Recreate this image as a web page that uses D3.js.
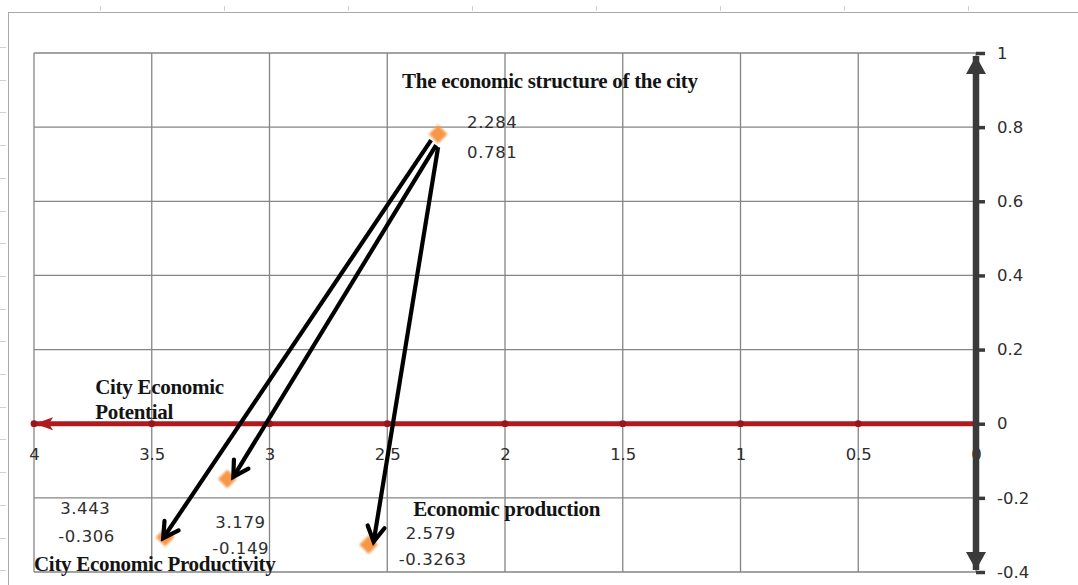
<!DOCTYPE html>
<html>
<head>
<meta charset="utf-8">
<script src="https://cdn.jsdelivr.net/npm/d3@7"></script>
<style>
  body { margin: 0; background: #fff; }
  svg { display: block; }
</style>
</head>
<body>
<div id="chart"></div>
<script>
// data
const xTickValues = [4, 3.5, 3, 2.5, 2, 1.5, 1, 0.5, 0];
const yTickValues = [1, 0.8, 0.6, 0.4, 0.2, 0, -0.2, -0.4];

const pointX = [2.284, 3.179, 3.443, 2.579];
const pointY = [0.781, -0.149, -0.306, -0.3263];
const pointLabelX = ["2.284", "3.179", "3.443", "2.579"];
const pointLabelY = ["0.781", "-0.149", "-0.306", "-0.3263"];

// arrows go from the structure point to the three others
const arrowFrom = [0, 0, 0];
const arrowTo = [2, 1, 3];

const annotationText = [
  ["The economic structure of the city"],
  ["City Economic", "Potential"],
  ["City Economic Productivity"],
  ["Economic production"]
];
// anchor of each annotation, in data units (x, y)
const annotationX = [2.437, 3.74, 4.0, 2.39];
const annotationY = [0.906, 0.08, -0.397, -0.2497];

// layout
const width = 1078, height = 585;
const plot = { left: 34, right: 976, top: 53, bottom: 572 };

// offsets (px) of the two data labels from each point: [dx1, dy1, dx2, dy2]
const labelOffset = [
  [29, -6, 29, 24],
  [-12, 49, -15, 75],
  [-105, -23, -107, 5],
  [37, -6, 30, 20]
];
// small shift of arrow start / end (px)
const arrowStart = [[-7, 6], [-2, 11], [0, 13]];
const arrowEnd = [[-2, 1], [6, -2], [5, -3]];

const svg = d3.select("#chart").append("svg")
  .attr("width", width)
  .attr("height", height);

const x = d3.scaleLinear().domain([4, 0]).range([plot.left, plot.right]);
const y = d3.scaleLinear().domain([-0.4, 1]).range([plot.bottom, plot.top]);

// spreadsheet frame behind the chart
const frame = svg.append("g").attr("stroke", "#a8a8a8").attr("stroke-width", 1);
frame.append("line").attr("x1", 8).attr("x2", width).attr("y1", 12.5).attr("y2", 12.5);
frame.append("line").attr("x1", 8.5).attr("x2", 8.5).attr("y1", 12).attr("y2", height);
d3.range(100, width, 124).forEach(v => {
  frame.append("line").attr("x1", v + 0.5).attr("x2", v + 0.5).attr("y1", 6).attr("y2", 11)
    .attr("stroke", "#d0d0d0");
});
d3.range(47, height, 32.7).forEach(v => {
  frame.append("line").attr("x1", 0).attr("x2", 6).attr("y1", Math.round(v) + 0.5).attr("y2", Math.round(v) + 0.5)
    .attr("stroke", "#d0d0d0");
});

// gridlines
const grid = svg.append("g").attr("stroke", "#858585").attr("stroke-width", 1.3);
grid.selectAll(".gx").data(xTickValues).join("line")
  .attr("x1", d => x(d)).attr("x2", d => x(d))
  .attr("y1", y(1)).attr("y2", y(-0.4));
grid.selectAll(".gy").data(yTickValues).join("line")
  .attr("x1", x(4)).attr("x2", x(0))
  .attr("y1", d => y(d)).attr("y2", d => y(d));

const numFont = "'DejaVu Sans', Verdana, sans-serif";
const serifFont = "'Liberation Serif', 'Times New Roman', serif";

// x tick labels (under the red axis)
const xAxis = svg.append("g")
  .attr("transform", `translate(0,${y(0)})`)
  .call(d3.axisBottom(x).tickValues(xTickValues).tickSize(0).tickPadding(25).tickFormat(d => String(d)));
xAxis.select(".domain").remove();
xAxis.selectAll("text")
  .attr("font-family", numFont).attr("font-size", 16.5).attr("fill", "#2e2e2e");

// markers
const defs = svg.append("defs");
defs.append("marker")
  .attr("id", "redHead").attr("markerUnits", "userSpaceOnUse")
  .attr("viewBox", "-20 -8 22 16").attr("refX", 0).attr("refY", 0)
  .attr("markerWidth", 22).attr("markerHeight", 16).attr("orient", "auto")
  .append("path").attr("d", "M-18,-6.5 L0,0 L-18,6.5 L-14,0 Z").attr("fill", "#b01a1f");
defs.append("marker")
  .attr("id", "greyHead").attr("markerUnits", "userSpaceOnUse")
  .attr("viewBox", "-20 -11 22 22").attr("refX", 0).attr("refY", 0)
  .attr("markerWidth", 22).attr("markerHeight", 22).attr("orient", "auto-start-reverse")
  .append("path").attr("d", "M-18,-10 L0,0 L-18,10 Z").attr("fill", "#3a3a3a");
defs.append("marker")
  .attr("id", "blackHead").attr("markerUnits", "userSpaceOnUse")
  .attr("viewBox", "-20 -12 24 24").attr("refX", 0).attr("refY", 0)
  .attr("markerWidth", 24).attr("markerHeight", 24).attr("orient", "auto")
  .append("path").attr("d", "M-15,-8.5 L0,0 L-15,8.5")
  .attr("fill", "none").attr("stroke", "#000").attr("stroke-width", 4.2)
  .attr("stroke-linejoin", "miter").attr("stroke-linecap", "round");

// red horizontal axis pointing to x = 4
svg.append("line")
  .attr("x1", x(0)).attr("x2", x(4) + 1)
  .attr("y1", y(0)).attr("y2", y(0))
  .attr("stroke", "#b01a1f").attr("stroke-width", 5)
  .attr("marker-end", "url(#redHead)");
svg.selectAll(".rdot").data(xTickValues.slice(0, -1)).join("circle")
  .attr("cx", d => x(d)).attr("cy", y(0)).attr("r", 3.4)
  .attr("fill", "#98161a");

// dark vertical axis at x = 0
const yAxis = svg.append("g")
  .attr("transform", `translate(${x(0)},0)`)
  .call(d3.axisRight(y).tickValues(yTickValues).tickSize(9).tickPadding(12).tickFormat(d => String(d)));
yAxis.select(".domain").remove();
yAxis.selectAll(".tick line").attr("stroke", "#3a3a3a").attr("stroke-width", 3.5);
yAxis.selectAll("text")
  .attr("font-family", numFont).attr("font-size", 16.5).attr("fill", "#2e2e2e");
svg.append("line")
  .attr("x1", x(0)).attr("x2", x(0))
  .attr("y1", y(-0.4) - 2).attr("y2", y(1) + 3)
  .attr("stroke", "#3a3a3a").attr("stroke-width", 6.5)
  .attr("marker-start", "url(#greyHead)")
  .attr("marker-end", "url(#greyHead)");

// points
const points = pointX.map((v, i) => ({ x: v, y: pointY[i], lx: pointLabelX[i], ly: pointLabelY[i], off: labelOffset[i] }));

defs.append("filter").attr("id", "glow")
  .append("feGaussianBlur").attr("stdDeviation", 0.8);

svg.selectAll(".pt").data(points).join("path")
  .attr("d", d3.symbol(d3.symbolSquare, 175))
  .attr("transform", d => `translate(${x(d.x)},${y(d.y)}) rotate(45)`)
  .attr("fill", "#f79646")
  .attr("filter", "url(#glow)");

// black arrows
arrowTo.forEach((to, i) => {
  const a = points[arrowFrom[i]], b = points[to];
  svg.append("line")
    .attr("x1", x(a.x) + arrowStart[i][0]).attr("y1", y(a.y) + arrowStart[i][1])
    .attr("x2", x(b.x) + arrowEnd[i][0]).attr("y2", y(b.y) + arrowEnd[i][1])
    .attr("stroke", "#000").attr("stroke-width", 4.2)
    .attr("marker-end", "url(#blackHead)");
});

// data labels
const labels = svg.append("g")
  .attr("font-family", numFont).attr("font-size", 16.5).attr("fill", "#2e2e2e")
  .attr("letter-spacing", 0.6);
points.forEach(d => {
  labels.append("text").attr("x", x(d.x) + d.off[0]).attr("y", y(d.y) + d.off[1]).text(d.lx);
  labels.append("text").attr("x", x(d.x) + d.off[2]).attr("y", y(d.y) + d.off[3]).text(d.ly);
});

// annotations
const ann = svg.append("g")
  .attr("font-family", serifFont).attr("font-size", 21).attr("font-weight", "bold").attr("fill", "#141414");
annotationText.forEach((lines, i) => {
  lines.forEach((t, j) => {
    ann.append("text")
      .attr("x", x(annotationX[i]))
      .attr("y", y(annotationY[i]) + j * 25)
      .attr("letter-spacing", -0.3)
      .text(t);
  });
});
</script>
</body>
</html>
